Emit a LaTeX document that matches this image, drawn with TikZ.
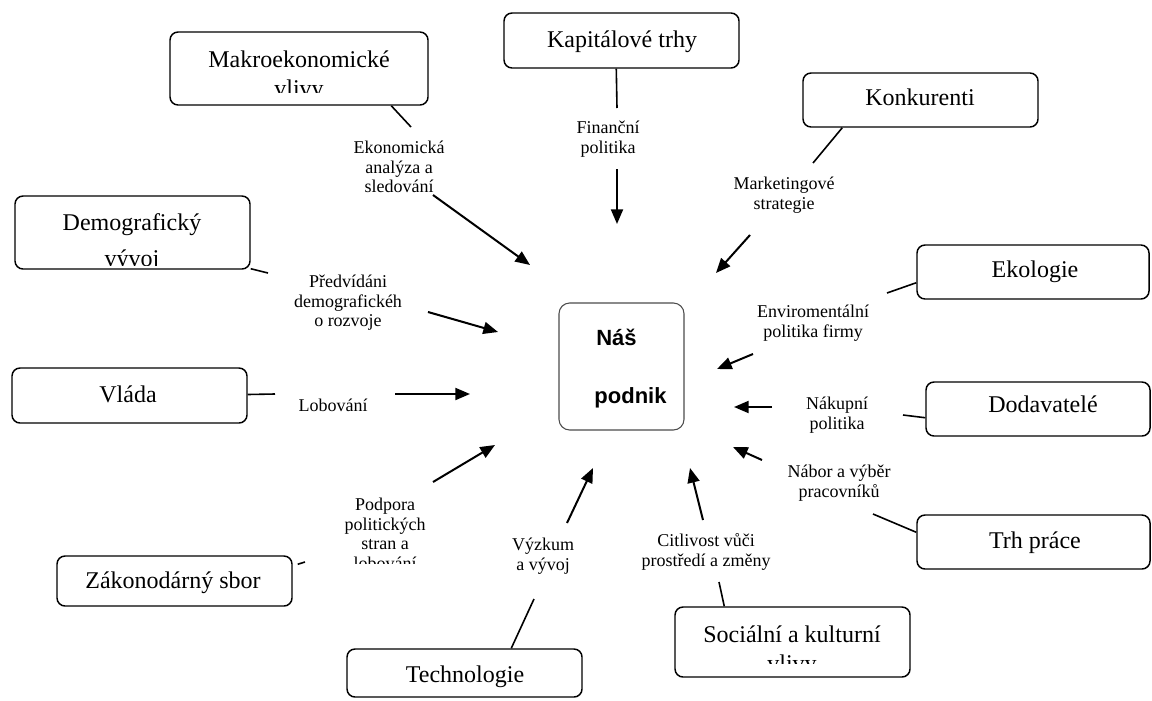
\documentclass[tikz,border=0pt]{standalone}
\usepackage{fontspec}
\setmainfont{Liberation Serif}
\newfontfamily\arialfont{Liberation Sans}
\usetikzlibrary{arrows.meta,fit}
\begin{document}
\begin{tikzpicture}[x=0.75pt,y=-0.75pt,
  box/.style={draw, line width=1.1pt, rounded corners=6pt, inner sep=0pt},
  core/.style={draw=black!70, line width=0.8pt, rounded corners=8pt, inner sep=0pt},
  boxtext/.style={font=\fontsize{18}{21}\selectfont, inner sep=0pt, anchor=base},
  coretext/.style={font=\arialfont\bfseries\fontsize{16.5}{19}\selectfont, inner sep=0pt, anchor=base},
  lbl/.style={font=\fontsize{13.5}{14.6}\selectfont, align=center, inner sep=0pt},
  link/.style={line width=1.2pt},
  arr/.style={line width=1.5pt, -{Triangle[length=11pt,width=9pt]}}]
\useasboundingbox (0,0) rectangle (1152,700);

% ---------- boxes ----------
\node[box, fit={(170,32) (428,105)}] (mak) {};
\node[box, fit={(504,13) (739,68)}] (kap) {};
\node[box, fit={(803,73) (1038,127)}] (kon) {};
\node[box, fit={(15,196) (250,269)}] (dem) {};
\node[box, fit={(917,245) (1149,299)}] (eko) {};
\node[box, fit={(12,368) (247,423)}] (vla) {};
\node[box, fit={(926,382) (1150,436)}] (dod) {};
\node[box, fit={(57,556) (292,606)}] (zak) {};
\node[box, fit={(347,649) (582,697)}] (tec) {};
\node[box, fit={(675,607) (910,677)}] (soc) {};
\node[box, fit={(917,515) (1150,569)}] (trh) {};
\node[core, fit={(559,303) (684,430)}] (nas) {};

% ---------- box texts ----------
\node[boxtext] (makt) at (299,67.5) {Makroekonomické};
\begin{scope}
  \clip (172,72) rectangle (426,92);
  \node[boxtext] (makt2) at (299,96) {vlivy};
\end{scope}
\node[boxtext] (kapt) at (622,47) {Kapitálové trhy};
\node[boxtext] (kont) at (920,105) {Konkurenti};
\node[boxtext] (demt) at (132,230.5) {Demografický};
\begin{scope}
  \clip (17,236) rectangle (248,265);
  \node[boxtext] (demt2) at (132,266) {vývoj};
\end{scope}
\node[boxtext] (ekot) at (1035,277.5) {Ekologie};
\node[boxtext] (vlat) at (128,402.5) {Vláda};
\node[boxtext] (dodt) at (1043,412.5) {Dodavatelé};
\node[boxtext] (zakt) at (173,588.5) {Zákonodárný sbor};
\node[boxtext] (tect) at (465,682.5) {Technologie};
\node[boxtext] (soct) at (792,642.5) {Sociální a kulturní};
\begin{scope}
  \clip (677,648) rectangle (908,663);
  \node[boxtext] (soct2) at (792,671) {vlivy};
\end{scope}
\node[boxtext] (trht) at (1035,548.5) {Trh práce};
\node[coretext] (nas1) at (616.5,345) {Náš};
\node[coretext] (nas2) at (630.5,403) {podnik};

% ---------- labels ----------
\node[lbl] (l1) at (399,167) {Ekonomická\\analýza a\\sledování};
\node[lbl] (l2) at (608,139) {Finanční\\politika};
\node[lbl] (l3) at (784,195) {Marketingové\\strategie};
\node[lbl] (l4) at (348,303) {Předvídáni\\demografickéh\\o rozvoje};
\node[lbl] (l5) at (333,405) {Lobování};
\begin{scope}
  \clip (740,295) rectangle (890,340);
  \node[lbl] (l6) at (813,323) {Enviromentální\\politika firmy};
\end{scope}
\node[lbl] (l7) at (837,415) {Nákupní\\politika};
\node[lbl] (l8) at (839,483) {Nábor a výběr\\pracovníků};
\begin{scope}
  \clip (320,490) rectangle (450,563);
  \node[lbl] (l9) at (385,534) {Podpora\\politických\\stran a\\lobování};
\end{scope}
\node[lbl] (l10) at (543,556) {Výzkum\\a vývoj};
\node[lbl] (l11) at (706,552) {Citlivost vůči\\prostředí a změny};

% ---------- free ends ----------
\coordinate (makE) at (411,127);
\coordinate (kapE) at (617,108);
\coordinate (konE) at (813,163);
\coordinate (demE) at (268,273);
\coordinate (ekoE) at (887,293);
\coordinate (vlaE) at (275,394);
\coordinate (dodE) at (903,415);
\coordinate (zakE) at (305,562);
\coordinate (tecE) at (534,599);
\coordinate (socE) at (719,582);
\coordinate (trhE) at (873,514);

\coordinate (a1s) at (433,195);  \coordinate (a1e) at (530,265);
\coordinate (a2s) at (617,169);  \coordinate (a2e) at (617,224);
\coordinate (a3s) at (750,235);  \coordinate (a3e) at (716,273);
\coordinate (a4s) at (428,312);  \coordinate (a4e) at (498,332);
\coordinate (a5s) at (395,394);  \coordinate (a5e) at (470,394);
\coordinate (a6s) at (753,354);  \coordinate (a6e) at (717,369);
\coordinate (a7s) at (772,407);  \coordinate (a7e) at (734,407);
\coordinate (a8s) at (762,460);  \coordinate (a8e) at (733,447);
\coordinate (a9s) at (433,482);  \coordinate (a9e) at (495,445);
\coordinate (a10s) at (567,523); \coordinate (a10e) at (593,468);
\coordinate (a11s) at (703,520); \coordinate (a11e) at (690,468);

% ---------- connectors ----------
\draw[link] (mak.south west) ++(222,0) -- (makE);
\draw[link] (kap.south west) ++(113,0) -- (kapE);
\draw[link] (kon.south west) ++(40,0) -- (konE);
\draw[link] (dem.south east) ++(0,-1) -- (demE);
\draw[link] (eko.south west) ++(0,-17) -- (ekoE);
\draw[link] (vla.east) ++(0,-1) -- (vlaE);
\draw[link] (dod.south west) ++(0,-19) -- (dodE);
\draw[link] (zak.north east) ++(5,9) -- (zakE);
\draw[link] (tec.north west) ++(165,0) -- (tecE);
\draw[link] (soc.north west) ++(50,0) -- (socE);
\draw[link] (trh.north west) ++(0,18) -- (trhE);

% ---------- arrows ----------
\draw[arr] (a1s) -- (a1e);
\draw[arr] (a2s) -- (a2e);
\draw[arr] (a3s) -- (a3e);
\draw[arr] (a4s) -- (a4e);
\draw[arr] (a5s) -- (a5e);
\draw[arr] (a6s) -- (a6e);
\draw[arr] (a7s) -- (a7e);
\draw[arr] (a8s) -- (a8e);
\draw[arr] (a9s) -- (a9e);
\draw[arr] (a10s) -- (a10e);
\draw[arr] (a11s) -- (a11e);
\end{tikzpicture}
\end{document}
